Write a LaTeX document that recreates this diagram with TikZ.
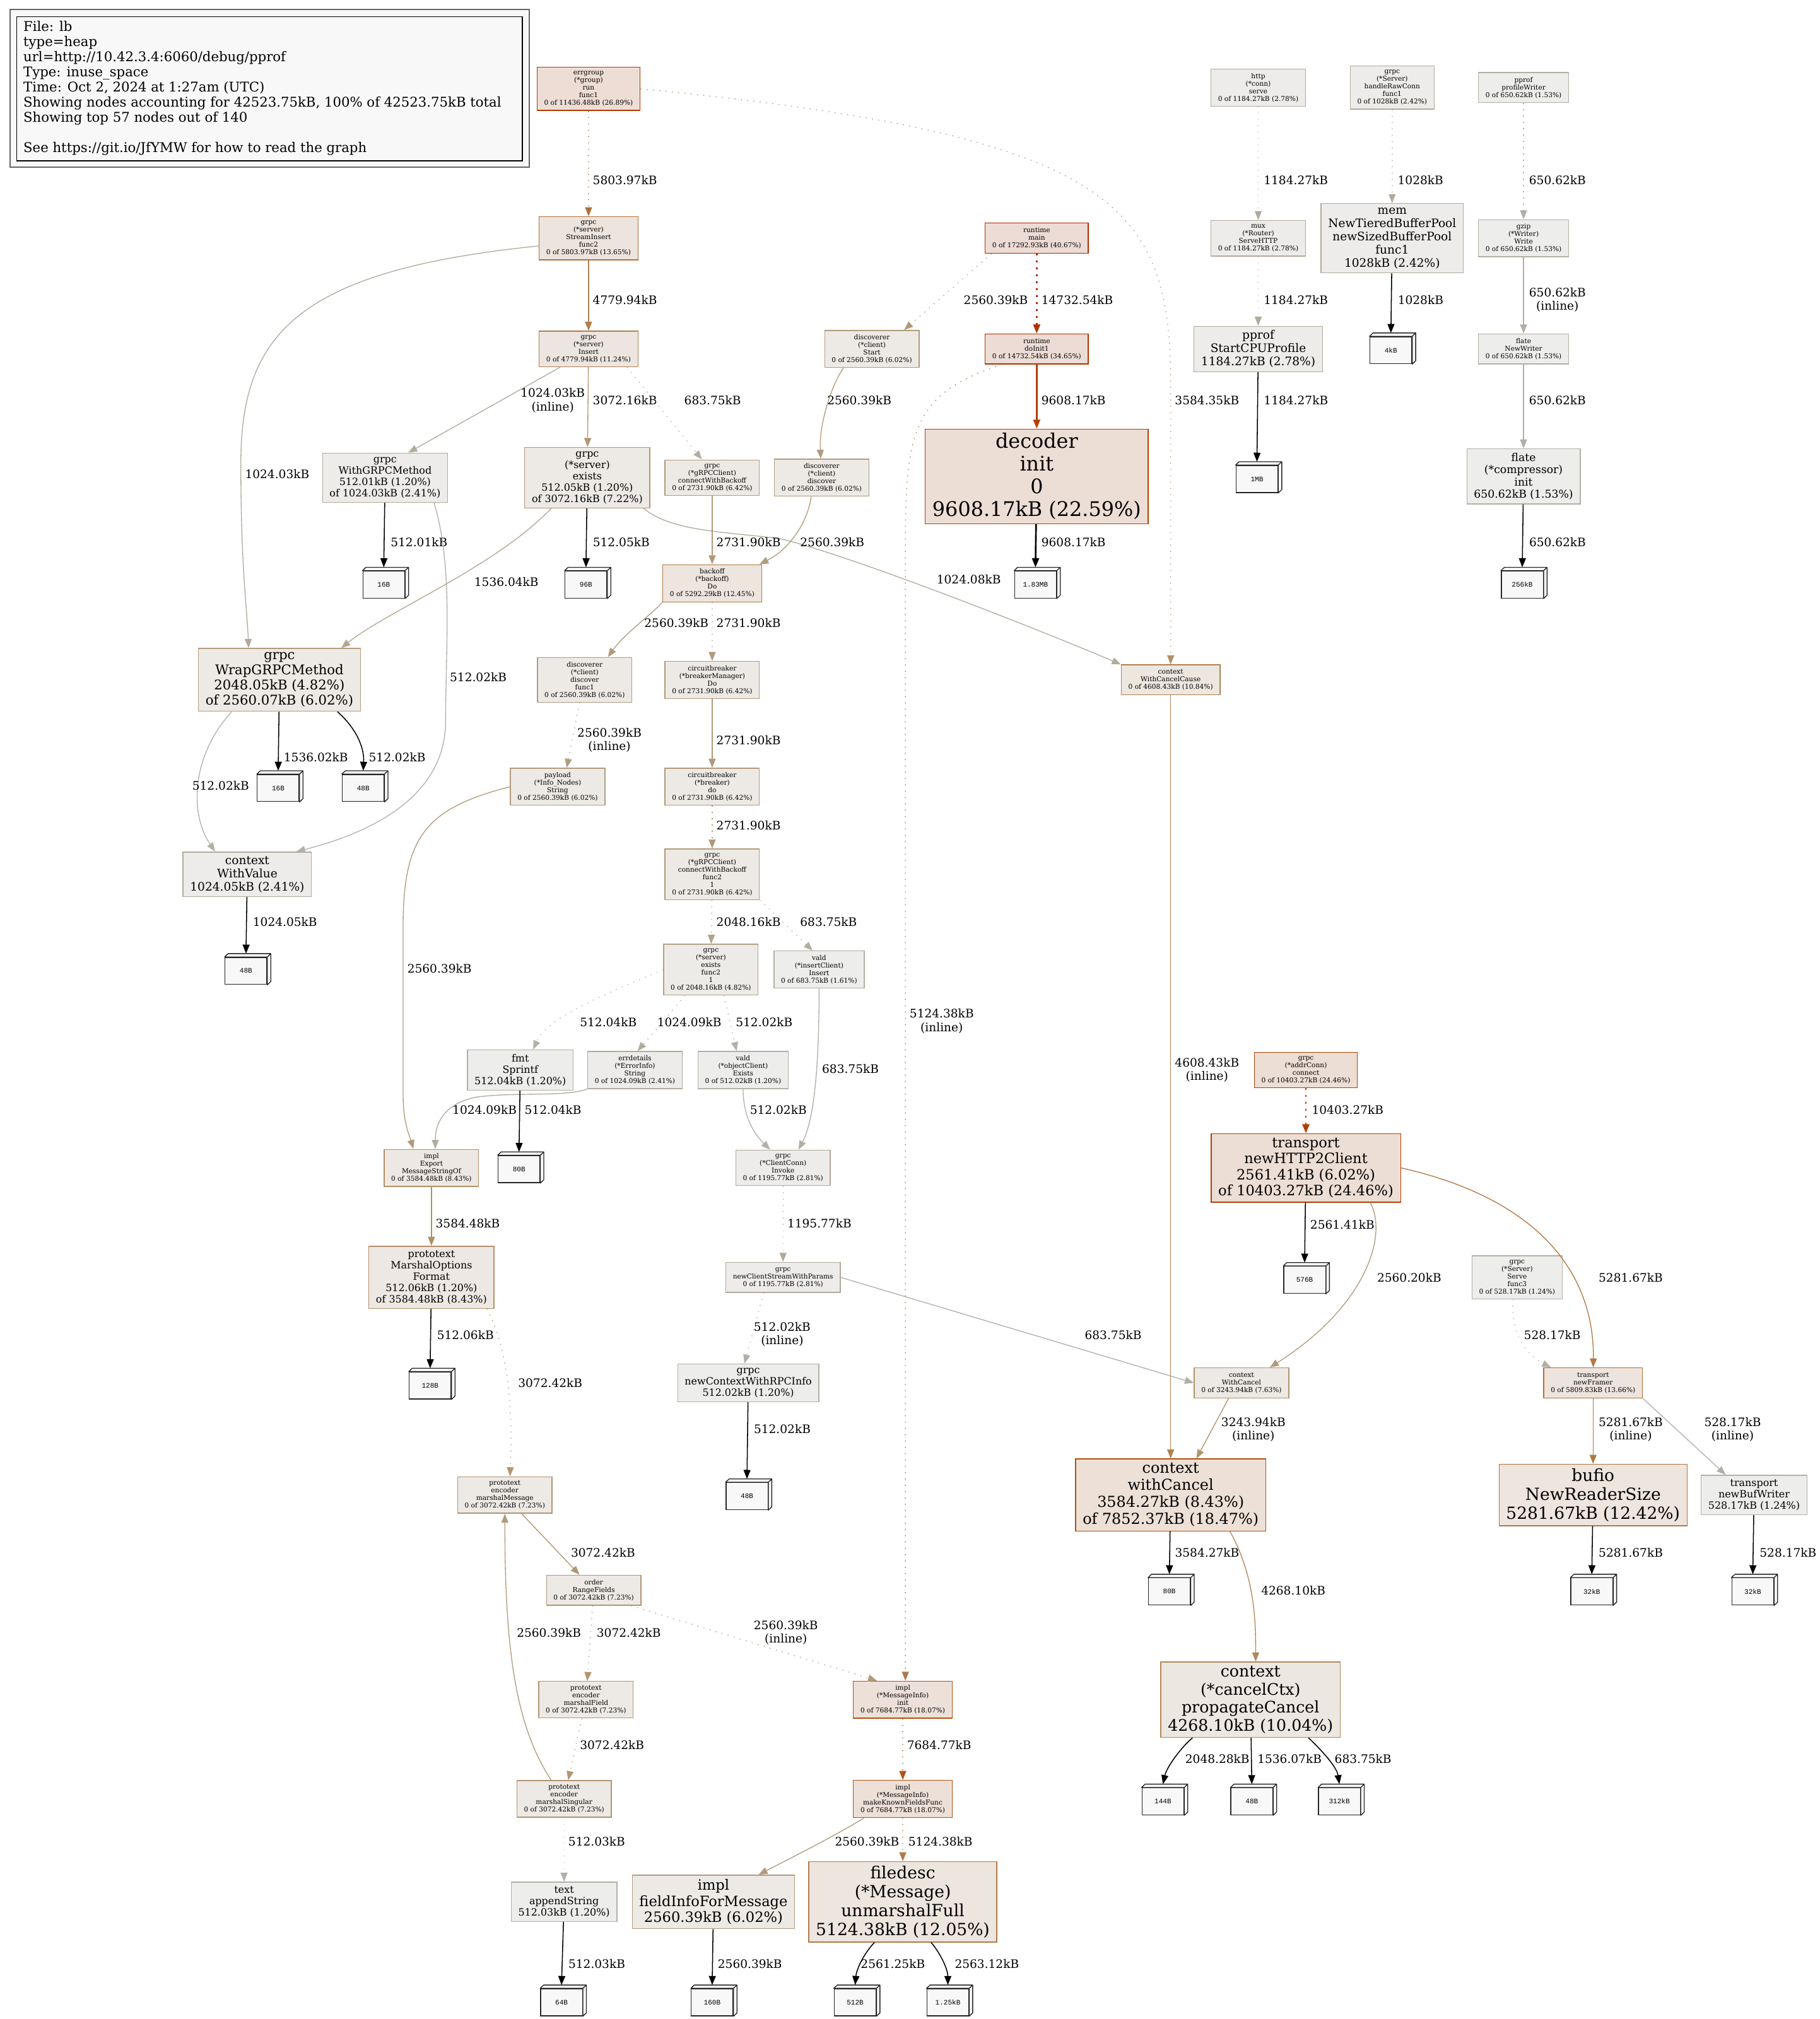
\documentclass[tikz,border=0pt]{standalone}
\usepackage{fontspec}
\setmainfont{DejaVu Serif}
\newfontfamily\leaffont{Liberation Mono}
\usepackage{tikz}
\usetikzlibrary{arrows.meta}

\definecolor{leafbg}{HTML}{F8F8F8}

\newcommand\setcols[2]{%
  \edef\pvs{\fpeval{#2/42523.75}}%
  \edef\pvsat{\fpeval{min(1,\pvs/0.2)}}%
  \edef\pvsh{\fpeval{\pvs^0.3}}%
  \edef\pvg{\fpeval{round(0.93*(1-0.1*\pvsat*\pvsh),4)}}%
  \edef\pvb{\fpeval{round(0.93*(1-0.1*\pvsat),4)}}%
  \edef\pvdef{\noexpand\definecolor{#1bg}{rgb}{0.93,\pvg,\pvb}}\pvdef
  \edef\pvg{\fpeval{round(0.7*(1-\pvsat*\pvsh),4)}}%
  \edef\pvb{\fpeval{round(0.7*(1-\pvsat),4)}}%
  \edef\pvdef{\noexpand\definecolor{#1fg}{rgb}{0.7,\pvg,\pvb}}\pvdef}

\tikzset{
  fnode/.style={/utils/exec={\setcols{n}{#1}}, fill=nbg, draw=nfg, line width=0.65pt,
    align=center, inner xsep=5.5pt, inner ysep=3.2pt, minimum width=35pt, minimum height=23.4pt},
  fs/.style={font=\fontsize{\fpeval{0.65*#1}}{\fpeval{0.735*#1}}\selectfont},
  leaf/.style={draw=black!85, fill=leafbg, line width=0.65pt, minimum width=32.5pt, minimum height=21pt,
    inner sep=0pt, font=\leaffont\fontsize{5.4}{6}\selectfont,
    append after command={\pgfextra{\draw[black!85, fill=leafbg, line width=0.65pt, line join=round]
      (\tikzlastnode.north west) -- ([shift={(2.7,-2.6)}]\tikzlastnode.north west)
      -- ([shift={(2.7,-2.6)}]\tikzlastnode.north east) -- ([shift={(2.7,-2.6)}]\tikzlastnode.south east)
      -- (\tikzlastnode.south east) -- (\tikzlastnode.north east) -- cycle
      (\tikzlastnode.north east) -- ([shift={(2.7,-2.6)}]\tikzlastnode.north east);}}},
  call/.style={/utils/exec={\setcols{e}{#1}}, draw=efg, line width=0.65pt, -{Triangle[length=7pt,width=5.4pt]}},
  sized/.style={draw=black, line width=0.75pt, -{Triangle[length=7pt,width=5.4pt]}},
  resid/.style={dash pattern=on 0.7pt off 4.2pt},
  hresid/.style={dash pattern=on 1.3pt off 4.1pt},
  heavy/.style={line width=1.3pt},
  lbl/.style={font=\fontsize{9.1}{10.3}\selectfont, anchor=west, align=center, inner sep=0pt, text=black}
}

\begin{document}
\begin{tikzpicture}[x=1pt, y=-1pt]
\useasboundingbox (0,0) rectangle (1413,1568);

% legend
\draw[black!60, line width=1pt, fill=leafbg] (8,7.5) rectangle (411,130);
\draw[line width=0.7pt] (13,13) rectangle (405.5,125);
\node[anchor=north west, align=left, inner sep=0pt, font=\fontsize{10.4}{11.8}\selectfont] (legend) at (18,16) {File: lb\\type=heap\\url=http://10.42.3.4:6060/debug/pprof\\Type: inuse\_space\\Time: Oct 2, 2024 at 1:27am (UTC)\\Showing nodes accounting for 42523.75kB, 100\% of 42523.75kB total\\Showing top 57 nodes out of 140\\[11.8pt]See https://git.io/JfYMW for how to read the graph};

\node[fnode=11436.48, fs=8] (errg) at (457,69) {errgroup\\(*group)\\run\\func1\\0 of 11436.48kB (26.89\%)};
\node[fnode=1184.27, fs=8] (http) at (977,68) {http\\(*conn)\\serve\\0 of 1184.27kB (2.78\%)};
\node[fnode=1028, fs=8] (hrc) at (1081,68) {grpc\\(*Server)\\handleRawConn\\func1\\0 of 1028kB (2.42\%)};
\node[fnode=650.62, fs=8] (pw) at (1183,68) {pprof\\profileWriter\\0 of 650.62kB (1.53\%)};

\node[fnode=5803.97, fs=8] (si) at (457,185) {grpc\\(*server)\\StreamInsert\\func2\\0 of 5803.97kB (13.65\%)};
\node[fnode=17292.93, fs=8] (main) at (805,185) {runtime\\main\\0 of 17292.93kB (40.67\%)};
\node[fnode=1184.27, fs=8] (mux) at (977,185) {mux\\(*Router)\\ServeHTTP\\0 of 1184.27kB (2.78\%)};
\node[fnode=1028, fs=14] (mem) at (1081,185) {mem\\NewTieredBufferPool\\newSizedBufferPool\\func1\\1028kB (2.42\%)};
\node[fnode=650.62, fs=8] (gz) at (1183,185) {gzip\\(*Writer)\\Write\\0 of 650.62kB (1.53\%)};

\node[fnode=4779.94, fs=8] (ins) at (457,271) {grpc\\(*server)\\Insert\\0 of 4779.94kB (11.24\%)};
\node[fnode=2560.39, fs=8] (start) at (677,271) {discoverer\\(*client)\\Start\\0 of 2560.39kB (6.02\%)};
\node[fnode=14732.54, fs=8] (doinit) at (805,271) {runtime\\doInit1\\0 of 14732.54kB (34.65\%)};
\node[fnode=1184.27, fs=14] (cpu) at (977,271) {pprof\\StartCPUProfile\\1184.27kB (2.78\%)};
\node[leaf] (l4k) at (1080,272) {4kB};
\node[fnode=650.62, fs=8] (nw) at (1183,271) {flate\\NewWriter\\0 of 650.62kB (1.53\%)};

\node[fnode=1024.03, fs=12] (wgm) at (299,371) {grpc\\WithGRPCMethod\\512.01kB (1.20\%)\\of 1024.03kB (2.41\%)};
\node[fnode=3072.16, fs=12] (ex) at (456,371) {grpc\\(*server)\\exists\\512.05kB (1.20\%)\\of 3072.16kB (7.22\%)};
\node[fnode=2731.90, fs=8] (cwb) at (553,371) {grpc\\(*gRPCClient)\\connectWithBackoff\\0 of 2731.90kB (6.42\%)};
\node[fnode=2560.39, fs=8] (disc) at (638,371) {discoverer\\(*client)\\discover\\0 of 2560.39kB (6.02\%)};
\node[fnode=9608.17, fs=24] (dec) at (805,370) {decoder\\init\\0\\9608.17kB (22.59\%)};
\node[leaf] (l1m) at (976,372) {1MB};
\node[fnode=650.62, fs=13] (ci) at (1183,370) {flate\\(*compressor)\\init\\650.62kB (1.53\%)};

\node[leaf] (l16a) at (298,454) {16B};
\node[leaf] (l96) at (455,454) {96B};
\node[fnode=5292.29, fs=8] (bo) at (553,453) {backoff\\(*backoff)\\Do\\0 of 5292.29kB (12.45\%)};
\node[leaf] (l183) at (804,454) {1.83MB};
\node[leaf] (l256) at (1182,454) {256kB};

\node[fnode=2560.07, fs=16] (wrap) at (217,528) {grpc\\WrapGRPCMethod\\2048.05kB (4.82\%)\\of 2560.07kB (6.02\%)};
\node[fnode=2560.39, fs=8] (df1) at (454,528) {discoverer\\(*client)\\discover\\func1\\0 of 2560.39kB (6.02\%)};
\node[fnode=2731.90, fs=8] (bm) at (553,528) {circuitbreaker\\(*breakerManager)\\Do\\0 of 2731.90kB (6.42\%)};
\node[fnode=4608.43, fs=8] (wcc) at (909,528) {context\\WithCancelCause\\0 of 4608.43kB (10.84\%)};

\node[leaf] (l16b) at (216,612) {16B};
\node[leaf] (l48a) at (282,612) {48B};
\node[fnode=2560.39, fs=8] (pl) at (433,611) {payload\\(*Info\_Nodes)\\String\\0 of 2560.39kB (6.02\%)};
\node[fnode=2731.90, fs=8] (br) at (553,611) {circuitbreaker\\(*breaker)\\do\\0 of 2731.90kB (6.42\%)};

\node[fnode=1024.05, fs=14] (wv) at (192,679) {context\\WithValue\\1024.05kB (2.41\%)};
\node[fnode=2731.90, fs=8] (cf2) at (553,679) {grpc\\(*gRPCClient)\\connectWithBackoff\\func2\\1\\0 of 2731.90kB (6.42\%)};

\node[leaf] (l48b) at (191,754) {48B};
\node[fnode=2048.16, fs=8] (ef2) at (552,753) {grpc\\(*server)\\exists\\func2\\1\\0 of 2048.16kB (4.82\%)};
\node[fnode=683.75, fs=8] (ic) at (636,753) {vald\\(*insertClient)\\Insert\\0 of 683.75kB (1.61\%)};

\node[fnode=512.04, fs=12] (fmt) at (404,831) {fmt\\Sprintf\\512.04kB (1.20\%)};
\node[fnode=1024.09, fs=8] (err) at (493,831) {errdetails\\(*ErrorInfo)\\String\\0 of 1024.09kB (2.41\%)};
\node[fnode=512.02, fs=8] (oc) at (577,831) {vald\\(*objectClient)\\Exists\\0 of 512.02kB (1.20\%)};
\node[fnode=10403.27, fs=8] (ac) at (1014,831) {grpc\\(*addrConn)\\connect\\0 of 10403.27kB (24.46\%)};

\node[fnode=3584.48, fs=8] (exp) at (335,907) {impl\\Export\\MessageStringOf\\0 of 3584.48kB (8.43\%)};
\node[leaf] (l80a) at (403,908) {80B};
\node[fnode=1195.77, fs=8] (inv) at (608,907) {grpc\\(*ClientConn)\\Invoke\\0 of 1195.77kB (2.81\%)};
\node[fnode=10403.27, fs=17] (h2) at (1014,907) {transport\\newHTTP2Client\\2561.41kB (6.02\%)\\of 10403.27kB (24.46\%)};

\node[fnode=3584.48, fs=12] (fmt2) at (335,992) {prototext\\MarshalOptions\\Format\\512.06kB (1.20\%)\\of 3584.48kB (8.43\%)};
\node[fnode=1195.77, fs=8] (ncs) at (608,992) {grpc\\newClientStreamWithParams\\0 of 1195.77kB (2.81\%)};
\node[leaf] (l576) at (1013,994) {576B};
\node[fnode=528.17, fs=8] (sf3) at (1178,992) {grpc\\(*Server)\\Serve\\func3\\0 of 528.17kB (1.24\%)};

\node[leaf] (l128) at (334,1076) {128B};
\node[fnode=512.02, fs=12] (nci) at (581,1074) {grpc\\newContextWithRPCInfo\\512.02kB (1.20\%)};
\node[fnode=3243.94, fs=8] (wc) at (964,1074) {context\\WithCancel\\0 of 3243.94kB (7.63\%)};
\node[fnode=5809.83, fs=8] (nf) at (1237,1074) {transport\\newFramer\\0 of 5809.83kB (13.66\%)};

\node[fnode=3072.42, fs=8] (mm) at (392,1161) {prototext\\encoder\\marshalMessage\\0 of 3072.42kB (7.23\%)};
\node[leaf] (l48c) at (580,1162) {48B};
\node[fnode=7852.37, fs=18] (wcb) at (909,1161) {context\\withCancel\\3584.27kB (8.43\%)\\of 7852.37kB (18.47\%)};
\node[fnode=5281.67, fs=20] (bufio) at (1237,1161) {bufio\\NewReaderSize\\5281.67kB (12.42\%)};
\node[fnode=528.17, fs=12] (nbw) at (1362,1161) {transport\\newBufWriter\\528.17kB (1.24\%)};

\node[fnode=3072.42, fs=8] (rf) at (461,1235) {order\\RangeFields\\0 of 3072.42kB (7.23\%)};
\node[leaf] (l80b) at (908,1236) {80B};
\node[leaf] (l32a) at (1236,1236) {32kB};
\node[leaf] (l32b) at (1361,1236) {32kB};

\node[fnode=3072.42, fs=8] (mf) at (455,1320) {prototext\\encoder\\marshalField\\0 of 3072.42kB (7.23\%)};
\node[fnode=7684.77, fs=8] (mi) at (701,1320) {impl\\(*MessageInfo)\\init\\0 of 7684.77kB (18.07\%)};
\node[fnode=4268.10, fs=19] (pc) at (971,1320) {context\\(*cancelCtx)\\propagateCancel\\4268.10kB (10.04\%)};

\node[fnode=3072.42, fs=8] (msg) at (438,1397) {prototext\\encoder\\marshalSingular\\0 of 3072.42kB (7.23\%)};
\node[fnode=7684.77, fs=8] (mk) at (701,1397) {impl\\(*MessageInfo)\\makeKnownFieldsFunc\\0 of 7684.77kB (18.07\%)};
\node[leaf] (l144) at (903,1399) {144B};
\node[leaf] (l48d) at (972,1399) {48B};
\node[leaf] (l312) at (1040,1399) {312kB};

\node[fnode=512.03, fs=12] (apps) at (438,1477) {text\\appendString\\512.03kB (1.20\%)};
\node[fnode=2560.39, fs=17] (fi) at (554,1477) {impl\\fieldInfoForMessage\\2560.39kB (6.02\%)};
\node[fnode=5124.38, fs=20] (um) at (701,1477) {filedesc\\(*Message)\\unmarshalFull\\5124.38kB (12.05\%)};

\node[leaf] (l64) at (436,1555) {64B};
\node[leaf] (l160) at (553,1555) {160B};
\node[leaf] (l512) at (664,1555) {512B};
\node[leaf] (l125) at (736,1555) {1.25kB};

% calls
\draw[call=5803.97, resid] (errg) -- (si) node[lbl, at={(460,140)}] {5803.97kB};
\draw[call=3584.35, resid] (errg.east) .. controls (870,105) and (909,160) .. (909,300) -- (wcc) node[lbl, at={(912,311)}] {3584.35kB};
\draw[call=4779.94] (si) -- (ins) node[lbl, at={(460,233)}] {4779.94kB};
\draw[call=1024.03] ([yshift=-6pt]si.west) .. controls (230,210) and (187,260) .. (187,360) .. controls (187,440) and (192,475) .. ([xshift=-24pt]wrap.north) node[lbl, at={(190,368)}] {1024.03kB};
\draw[call=1024.03] ([xshift=-22pt]ins.south) -- ([xshift=18pt]wgm.north) node[lbl, at={(404,311)}] {1024.03kB\\(inline)};
\draw[call=3072.16] (ins) -- (ex) node[lbl, at={(460,311)}] {3072.16kB};
\draw[call=683.75, resid] ([xshift=30pt]ins.south) -- ([xshift=-8pt]cwb.north) node[lbl, at={(531,311)}] {683.75kB};
\draw[call=2560.39, resid] ([xshift=-35pt]main.south) -- ([xshift=25pt]start.north) node[lbl, at={(748,233)}] {2560.39kB};
\draw[call=14732.54, hresid, heavy] (main) -- (doinit) node[lbl, at={(808,233)}] {14732.54kB};
\draw[call=9608.17, heavy] (doinit) -- (dec) node[lbl, at={(808,311)}] {9608.17kB};
\draw[call=5124.38, resid] ([xshift=-27pt]doinit.south) .. controls (712,305) and (703,330) .. (703,420) -- ([xshift=2pt]mi.north) node[lbl, at={(706,793)}] {5124.38kB\\(inline)};
\draw[call=2560.39] ([xshift=-22pt]start.south) .. controls (645,300) and (636,330) .. (disc) node[lbl, at={(642,311)}] {2560.39kB};
\draw[sized] (wgm) -- ([yshift=2.6pt]l16a.north) node[lbl, at={(303,421)}] {512.01kB};
\draw[call=512.02] ([xshift=38pt]wgm.south) .. controls (352,440) and (346,500) .. (346,560) .. controls (346,625) and (275,650) .. ([xshift=38pt]wv.north) node[lbl, at={(349,526)}] {512.02kB};
\draw[sized] (ex) -- ([yshift=2.6pt]l96.north) node[lbl, at={(460,421)}] {512.05kB};
\draw[call=1536.04] ([xshift=-28pt]ex.south) .. controls (385,440) and (300,475) .. ([xshift=48pt]wrap.north) node[lbl, at={(368,452)}] {1536.04kB};
\draw[call=1024.08] ([xshift=-5pt]ex.south east) .. controls (520,412) and (560,413) .. (604,418) .. controls (650,428) and (790,482) .. (wcc.north west) node[lbl, at={(727,450)}] {1024.08kB};
\draw[call=2731.90] (cwb) -- (bo) node[lbl, at={(556,421)}] {2731.90kB};
\draw[call=2560.39] ([xshift=-8pt]disc.south) .. controls (626,410) and (610,428) .. ([xshift=-2pt]bo.north east) node[lbl, at={(621,421)}] {2560.39kB};
\draw[sized, heavy] (dec) -- ([yshift=2.6pt]l183.north) node[lbl, at={(808,421)}] {9608.17kB};
\draw[call=2560.39] (bo.south west) .. controls (505,478) and (485,492) .. ([xshift=18pt]df1.north) node[lbl, at={(500,484)}] {2560.39kB};
\draw[call=2731.90, resid] (bo) -- (bm) node[lbl, at={(556,484)}] {2731.90kB};
\draw[sized] (wrap) -- ([yshift=2.6pt]l16b.north) node[lbl, at={(220,588)}] {1536.02kB};
\draw[sized] ([xshift=45pt]wrap.south) .. controls (276,565) and (283,580) .. ([yshift=2.6pt]l48a.north) node[lbl, at={(286,588)}] {512.02kB};
\draw[call=512.02] ([xshift=-37pt]wrap.south) .. controls (150,585) and (146,630) .. ([xshift=-25pt]wv.north) node[lbl, at={(149,610)}] {512.02kB};
\draw[call=2560.39, resid] ([xshift=-4pt]df1.south) -- ([xshift=7pt]pl.north) node[lbl, at={(448,575)}] {2560.39kB\\(inline)};
\draw[call=2731.90] (bm) -- (br) node[lbl, at={(556,575)}] {2731.90kB};
\draw[call=2731.90, resid] (br) -- (cf2) node[lbl, at={(556,641)}] {2731.90kB};
\draw[call=2560.39] (pl.west) .. controls (330,628) and (313,650) .. (313,720) -- (313,850) .. controls (313,872) and (318,882) .. ([xshift=-14pt]exp.north) node[lbl, at={(316,752)}] {2560.39kB};
\draw[call=4608.43] (wcc) -- (wcb) node[lbl, at={(912,831)}] {4608.43kB\\(inline)};
\draw[sized] (wv) -- ([yshift=2.6pt]l48b.north) node[lbl, at={(196,716)}] {1024.05kB};
\draw[call=2048.16, resid] (cf2) -- (ef2) node[lbl, at={(556,716)}] {2048.16kB};
\draw[call=683.75, resid] (cf2.south east) -- ([xshift=-5pt]ic.north) node[lbl, at={(621,716)}] {683.75kB};
\draw[call=512.04, resid] (ef2.west) .. controls (470,772) and (425,790) .. ([xshift=10pt]fmt.north) node[lbl, at={(450,794)}] {512.04kB};
\draw[call=1024.09, resid] ([xshift=-20pt]ef2.south) -- ([xshift=2pt]err.north) node[lbl, at={(510,794)}] {1024.09kB};
\draw[call=512.02, resid] ([xshift=10pt]ef2.south) -- ([xshift=-5pt]oc.north) node[lbl, at={(571,794)}] {512.02kB};
\draw[call=683.75] (ic) .. controls (636,830) and (632,870) .. ([xshift=12pt]inv.north) node[lbl, at={(638,830)}] {683.75kB};
\draw[call=1024.09] (err.south west) .. controls (440,852) and (400,848) .. (370,852) .. controls (345,857) and (338,872) .. ([xshift=3pt]exp.north) node[lbl, at={(351,862)}] {1024.09kB};
\draw[sized] (fmt) -- ([yshift=2.6pt]l80a.north) node[lbl, at={(407,862)}] {512.04kB};
\draw[call=512.02] (oc) .. controls (577,872) and (590,885) .. ([xshift=-10pt]inv.north) node[lbl, at={(582,862)}] {512.02kB};
\draw[call=10403.27, hresid, heavy] (ac) -- (h2) node[lbl, at={(1018,862)}] {10403.27kB};
\draw[call=3584.48] (exp) -- (fmt2) node[lbl, at={(338,950)}] {3584.48kB};
\draw[call=1195.77, resid] (inv) -- (ncs) node[lbl, at={(611,950)}] {1195.77kB};
\draw[sized] (h2) -- ([yshift=2.6pt]l576.north) node[lbl, at={(1017,951)}] {2561.41kB};
\draw[call=2560.20] ([xshift=50pt]h2.south) .. controls (1078,960) and (1060,1015) .. ([xshift=22pt]wc.north) node[lbl, at={(1069,992)}] {2560.20kB};
\draw[call=5281.67] (h2.east) .. controls (1190,930) and (1238,985) .. (nf) node[lbl, at={(1241,992)}] {5281.67kB};
\draw[sized] (fmt2) -- ([yshift=2.6pt]l128.north) node[lbl, at={(339,1037)}] {512.06kB};
\draw[call=3072.42, resid] ([xshift=43pt]fmt2.south) .. controls (396,1050) and (398,1100) .. ([xshift=4pt]mm.north) node[lbl, at={(402,1074)}] {3072.42kB};
\draw[call=512.02, resid] ([xshift=-15pt]ncs.south) -- ([xshift=-3pt]nci.north) node[lbl, at={(585,1036)}] {512.02kB\\(inline)};
\draw[call=683.75] (ncs.east) -- (wc.west) node[lbl, at={(842,1037)}] {683.75kB};
\draw[call=528.17, resid] ([xshift=-3pt]sf3.south) .. controls (1172,1040) and (1190,1055) .. ([xshift=6pt]nf.north west) node[lbl, at={(1183,1037)}] {528.17kB};
\draw[sized] (nci) -- ([yshift=2.6pt]l48c.north) node[lbl, at={(585,1110)}] {512.02kB};
\draw[call=3243.94] ([xshift=-10pt]wc.south) -- ([xshift=20pt]wcb.north) node[lbl, at={(948,1110)}] {3243.94kB\\(inline)};
\draw[call=5281.67] (nf) -- (bufio) node[lbl, at={(1241,1110)}] {5281.67kB\\(inline)};
\draw[call=528.17] (nf.south east) -- ([xshift=-22pt]nbw.north) node[lbl, at={(1323,1110)}] {528.17kB\\(inline)};
\draw[call=3072.42] ([xshift=13pt]mm.south) -- ([xshift=-11pt]rf.north) node[lbl, at={(443,1206)}] {3072.42kB};
\draw[sized] (wcb) -- ([yshift=2.6pt]l80b.north) node[lbl, at={(912,1206)}] {3584.27kB};
\draw[call=4268.10] ([xshift=46pt]wcb.south) .. controls (975,1225) and (975,1262) .. ([xshift=4pt]pc.north) node[lbl, at={(979,1235)}] {4268.10kB};
\draw[sized] (bufio) -- ([yshift=2.6pt]l32a.north) node[lbl, at={(1241,1206)}] {5281.67kB};
\draw[sized] (nbw) -- ([yshift=2.6pt]l32b.north) node[lbl, at={(1366,1206)}] {528.17kB};
\draw[call=3072.42, resid] (rf) -- (mf) node[lbl, at={(463,1268)}] {3072.42kB};
\draw[call=2560.39, resid] ([xshift=-8pt]rf.south east) -- ([xshift=-20pt]mi.north) node[lbl, at={(585,1268)}] {2560.39kB\\(inline)};
\draw[call=2560.39] ([xshift=-10pt]msg.north) .. controls (400,1340) and (392,1280) .. (mm.south) node[lbl, at={(401,1268)}] {2560.39kB};
\draw[call=3072.42, resid] (mf) -- (msg) node[lbl, at={(450,1355)}] {3072.42kB};
\draw[call=7684.77, resid] (mi) -- (mk) node[lbl, at={(704,1355)}] {7684.77kB};
\draw[sized] ([xshift=-45pt]pc.south) .. controls (918,1356) and (906,1372) .. ([yshift=2.6pt]l144.north) node[lbl, at={(920,1366)}] {2048.28kB};
\draw[sized] (pc) -- ([yshift=2.6pt]l48d.north) node[lbl, at={(976,1366)}] {1536.07kB};
\draw[sized] ([xshift=45pt]pc.south) .. controls (1025,1358) and (1038,1372) .. ([yshift=2.6pt]l312.north) node[lbl, at={(1036,1366)}] {683.75kB};
\draw[call=512.03, resid] (msg) -- (apps) node[lbl, at={(441,1430)}] {512.03kB};
\draw[call=2560.39] ([xshift=-30pt]mk.south) .. controls (650,1425) and (610,1445) .. ([xshift=35pt]fi.north) node[lbl, at={(648,1430)}] {2560.39kB};
\draw[call=5124.38, resid] (mk) -- (um) node[lbl, at={(705,1430)}] {5124.38kB};
\draw[sized] (apps) -- ([yshift=2.6pt]l64.north) node[lbl, at={(441,1525)}] {512.03kB};
\draw[sized] (fi) -- ([yshift=2.6pt]l160.north) node[lbl, at={(557,1525)}] {2560.39kB};
\draw[sized] ([xshift=-22pt]um.south) .. controls (670,1518) and (665,1530) .. ([yshift=2.6pt]l512.north) node[lbl, at={(668,1525)}] {2561.25kB};
\draw[sized] ([xshift=22pt]um.south) .. controls (731,1518) and (736,1530) .. ([yshift=2.6pt]l125.north) node[lbl, at={(741,1525)}] {2563.12kB};

\draw[call=1184.27, resid] (http) -- (mux) node[lbl, at={(981,140)}] {1184.27kB};
\draw[call=1028, resid] (hrc) -- (mem) node[lbl, at={(1085,140)}] {1028kB};
\draw[call=650.62, resid] (pw) -- (gz) node[lbl, at={(1187,140)}] {650.62kB};
\draw[call=1184.27, resid] (mux) -- (cpu) node[lbl, at={(981,233)}] {1184.27kB};
\draw[sized] (mem) -- ([yshift=2.6pt]l4k.north) node[lbl, at={(1085,233)}] {1028kB};
\draw[call=650.62] (gz) -- (nw) node[lbl, at={(1187,233)}] {650.62kB\\(inline)};
\draw[sized] (cpu) -- ([yshift=2.6pt]l1m.north) node[lbl, at={(981,311)}] {1184.27kB};
\draw[call=650.62] (nw) -- (ci) node[lbl, at={(1187,311)}] {650.62kB};
\draw[sized] (ci) -- ([yshift=2.6pt]l256.north) node[lbl, at={(1187,421)}] {650.62kB};
\end{tikzpicture}
\end{document}
